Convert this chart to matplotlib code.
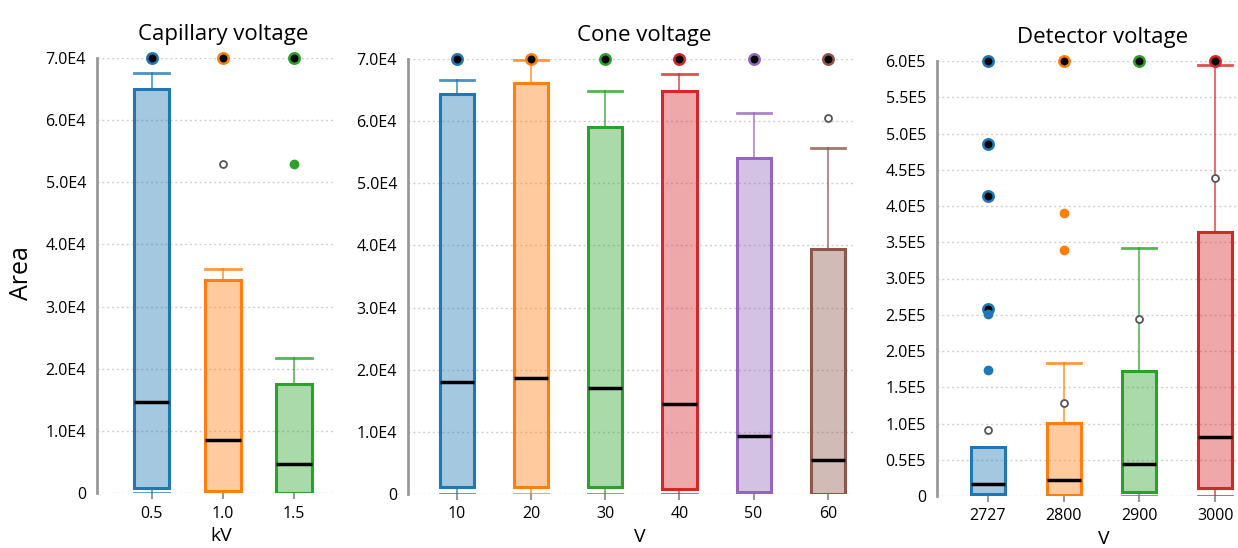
import matplotlib.pyplot as plt
from matplotlib.colors import to_rgba

plt.rcParams['font.family'] = ['Open Sans', 'DejaVu Sans']

COLORS = plt.get_cmap('tab10').colors

# --- Capillary voltage (kV) ---
cap_labels = ['0.5', '1.0', '1.5']
cap_q1 = [850, 300, 0]
cap_med = [14600, 8500, 4600]
cap_q3 = [65000, 34300, 17600]
cap_lo = [0, 0, 0]
cap_hi = [67600, 36100, 21800]
cap_ringed = [[70000], [70000], [70000]]
cap_dots = [[], [], [53000]]
cap_open = [[], [53000], []]

# --- Cone voltage (V) ---
cone_labels = ['10', '20', '30', '40', '50', '60']
cone_q1 = [1200, 1200, 1200, 800, 300, 0]
cone_med = [18000, 18700, 17100, 14500, 9300, 5400]
cone_q3 = [64400, 66100, 59100, 64900, 54100, 39400]
cone_lo = [0, 0, 0, 0, 0, 0]
cone_hi = [66600, 69900, 64900, 67600, 61300, 55700]
cone_ringed = [[70000]] * 6
cone_dots = [[]] * 6
cone_open = [[], [], [], [], [], [60500]]

# --- Detector voltage (V) ---
det_labels = ['2727', '2800', '2900', '3000']
det_q1 = [2300, 1500, 5000, 10600]
det_med = [16100, 22500, 43700, 81000]
det_q3 = [68000, 101000, 173000, 364000]
det_lo = [0, 0, 0, 0]
det_hi = [68000, 184000, 342000, 594000]
det_ringed = [[600000, 486000, 414000, 258000], [600000], [600000], [600000]]
det_dots = [[251000, 174000], [390000, 339000], [], []]
det_open = [[91000], [128000], [244000], [439000]]

e4_ticks = [0, 10000, 20000, 30000, 40000, 50000, 60000, 70000]
e4_ticklabels = ['0', '1.0E4', '2.0E4', '3.0E4', '4.0E4', '5.0E4', '6.0E4', '7.0E4']
e5_ticks = [0, 50000, 100000, 150000, 200000, 250000, 300000, 350000,
            400000, 450000, 500000, 550000, 600000]
e5_ticklabels = ['0', '0.5E5', '1.0E5', '1.5E5', '2.0E5', '2.5E5', '3.0E5', '3.5E5',
                 '4.0E5', '4.5E5', '5.0E5', '5.5E5', '6.0E5']


def draw_panel(ax, labels, q1, med, q3, lo, hi, ringed, dots, opens, width):
    n = len(labels)
    stats = [dict(med=med[i], q1=q1[i], q3=q3[i], whislo=lo[i], whishi=hi[i], fliers=[])
             for i in range(n)]
    bp = ax.bxp(stats, positions=list(range(n)), widths=width, capwidths=width,
                patch_artist=True, showfliers=False, manage_ticks=False)
    for i in range(n):
        c = COLORS[i]
        box = bp['boxes'][i]
        box.set_facecolor(to_rgba(c, 0.4))
        box.set_edgecolor(c)
        box.set_linewidth(2.2)
        bp['medians'][i].set_color('black')
        bp['medians'][i].set_linewidth(2.5)
        for w in bp['whiskers'][2 * i:2 * i + 2]:
            w.set_color(to_rgba(c, 0.65))
            w.set_linewidth(1.5)
        for cp in bp['caps'][2 * i:2 * i + 2]:
            cp.set_color(to_rgba(c, 0.8))
            cp.set_linewidth(2)
        ax.plot([i] * len(ringed[i]), ringed[i], 'o', ms=7.5, mfc='black', mec=c,
                mew=1.8, clip_on=False, zorder=5)
        ax.plot([i] * len(dots[i]), dots[i], 'o', ms=6, mfc=c, mec=c, clip_on=False, zorder=5)
        ax.plot([i] * len(opens[i]), opens[i], 'o', ms=5, mfc='white', mec='#555555',
                mew=1.3, clip_on=False, zorder=5)
    ax.set_xticks(list(range(n)))
    ax.set_xticklabels(labels, fontsize=11.5)
    for s in ['top', 'right', 'bottom']:
        ax.spines[s].set_visible(False)
    ax.spines['left'].set_color('#999999')
    ax.spines['left'].set_linewidth(2)
    ax.tick_params(axis='x', length=4, width=1.5, color='#999999', pad=5)
    ax.tick_params(axis='y', length=0, pad=8, labelsize=11.5)
    ax.yaxis.grid(True, linestyle=(0, (1.5, 2)), color='#d0d0d0', linewidth=1)
    ax.set_axisbelow(True)


fig = plt.figure(figsize=(12.38, 5.48), dpi=100)
ax1 = fig.add_axes([97 / 1238, 55 / 548, 238 / 1238, 435 / 548])
ax2 = fig.add_axes([408 / 1238, 54 / 548, 445 / 1238, 435 / 548])
ax3 = fig.add_axes([937 / 1238, 52 / 548, 301 / 1238, 435 / 548])

draw_panel(ax1, cap_labels, cap_q1, cap_med, cap_q3, cap_lo, cap_hi,
           cap_ringed, cap_dots, cap_open, 0.5)
draw_panel(ax2, cone_labels, cone_q1, cone_med, cone_q3, cone_lo, cone_hi,
           cone_ringed, cone_dots, cone_open, 0.46)
draw_panel(ax3, det_labels, det_q1, det_med, det_q3, det_lo, det_hi,
           det_ringed, det_dots, det_open, 0.45)

ax1.set_xlim(-0.77, 2.58)
ax2.set_xlim(-0.66, 5.34)
ax3.set_xlim(-0.67, 3.3)

for ax in (ax1, ax2):
    ax.set_ylim(0, 70000)
    ax.set_yticks(e4_ticks)
    ax.set_yticklabels(e4_ticklabels)
ax3.set_ylim(0, 600000)
ax3.set_yticks(e5_ticks)
ax3.set_yticklabels(e5_ticklabels)

ax1.set_title('Capillary voltage', fontsize=16, pad=13, x=0.53)
ax2.set_title('Cone voltage', fontsize=16, pad=13, x=0.53)
ax3.set_title('Detector voltage', fontsize=16, pad=13, x=0.55)

ax1.set_xlabel('kV', fontsize=14)
ax2.set_xlabel('V', fontsize=14)
ax3.set_xlabel('V', fontsize=14)
ax1.xaxis.set_label_coords(0.52, -0.078)
ax2.xaxis.set_label_coords(0.52, -0.078)
ax3.xaxis.set_label_coords(0.555, -0.078)

ax1.set_ylabel('Area', fontsize=18)
ax1.yaxis.set_label_coords(-0.265, 0.505)

fig.savefig('out.png', dpi=100)
